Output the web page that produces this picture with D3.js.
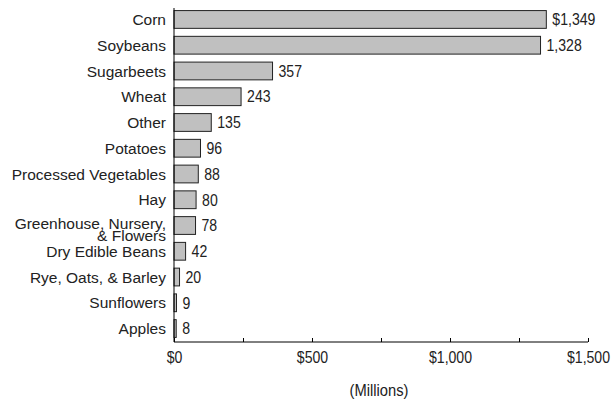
<!DOCTYPE html>
<html>
<head>
<meta charset="utf-8">
<script src="https://cdn.jsdelivr.net/npm/d3@7"></script>
<style>
  body { margin: 0; background: #fff; }
  text { font-family: "Liberation Sans Narrow", "Arial Narrow", "Liberation Sans", sans-serif; fill: #222; }
</style>
</head>
<body>
<div class="chart" style="width:613px;height:402px"></div>
<script>
// crops and values, in millions of dollars
let crops = ["Corn", "Soybeans", "Sugarbeets", "Wheat", "Other", "Potatoes",
    "Processed Vegetables", "Hay", "Greenhouse, Nursery,|& Flowers", "Dry Edible Beans",
    "Rye, Oats, & Barley", "Sunflowers", "Apples"];
let values = [1349, 1328, 357, 243, 135, 96, 88, 80, 78, 42, 20, 9, 8];
let valueLabels = ["$1,349", "1,328", "357", "243", "135", "96", "88", "80", "78", "42", "20", "9", "8"];
let xTicks = [0, 250, 500, 750, 1000, 1250, 1500];
let xTickLabels = ["$0", "", "$500", "", "$1,000", "", "$1,500"];

// squeeze text horizontally to mimic the condensed face of the original
function condense(sel, k) {
    sel.each(function() {
        let len = this.getComputedTextLength();
        if (len > 0) {
            d3.select(this)
                .attr("textLength", len * k)
                .attr("lengthAdjust", "spacingAndGlyphs");
        }
    });
}

function init() {
    let margin = { top: 8, right: 25, bottom: 60, left: 174 };
    let width = 613 - margin.left - margin.right;
    let height = 402 - margin.top - margin.bottom;

    let xScale = d3.scaleLinear()
        .range([0, width])
        .domain([0, 1500]);

    let yScale = d3.scaleBand()
        .range([0, height - 2])
        .domain(crops)
        .paddingInner(0.31)
        .paddingOuter(0.1);

    let svg = d3.select(".chart").append("svg")
        .attr("width", 613)
        .attr("height", 402);

    let plot = svg.append("g")
        .attr("transform", `translate(${margin.left},${margin.top})`);

    // bars
    plot.selectAll("rect.bar")
        .data(crops)
        .enter().append("rect")
        .attr("class", "bar")
        .attr("x", 0)
        .attr("y", d => yScale(d))
        .attr("width", (d, i) => xScale(values[i]))
        .attr("height", yScale.bandwidth())
        .attr("fill", "#c0c0c0")
        .attr("stroke", "#222")
        .attr("stroke-width", 1);

    // value labels
    let vals = plot.selectAll("text.val")
        .data(crops)
        .enter().append("text")
        .attr("class", "val")
        .attr("x", (d, i) => xScale(values[i]) + 6)
        .attr("y", d => yScale(d) + yScale.bandwidth() / 2)
        .attr("dy", "0.36em")
        .attr("font-size", 16)
        .text((d, i) => valueLabels[i]);
    condense(vals, 0.88);

    // category labels
    let labels = plot.selectAll("text.cat")
        .data(crops)
        .enter().append("text")
        .attr("class", "cat")
        .attr("text-anchor", "end")
        .attr("font-size", 15.5)
        .attr("y", d => yScale(d) + yScale.bandwidth() / 2);

    labels.each(function(d) {
        let parts = d.split("|");
        let t = d3.select(this);
        parts.forEach((p, j) => {
            t.append("tspan")
                .attr("x", -8)
                .attr("dy", j === 0 ? (parts.length > 1 ? "0.2em" : "0.36em") : "0.82em")
                .text(p);
        });
    });

    // y axis line
    plot.append("line")
        .attr("x1", 0).attr("x2", 0)
        .attr("y1", 0).attr("y2", height)
        .attr("stroke", "#000");

    // x axis
    let xAxis = plot.append("g")
        .attr("transform", `translate(0,${height})`)
        .call(d3.axisBottom(xScale)
            .tickValues(xTicks)
            .tickSize(-4)
            .tickFormat((d, i) => xTickLabels[i]));

    xAxis.select(".domain").attr("stroke", "#000").attr("d", `M0,0H${width}`);
    xAxis.selectAll(".tick line").attr("stroke", "#000");
    let tickText = xAxis.selectAll(".tick text")
        .attr("font-size", 16)
        .attr("y", 10)
        .attr("fill", "#222")
        .attr("font-family", null);
    condense(tickText, 0.88);

    let unit = svg.append("text")
        .attr("x", margin.left + width / 2 - 2)
        .attr("y", 396)
        .attr("text-anchor", "middle")
        .attr("font-size", 16)
        .text("(Millions)");
    condense(unit, 0.92);
}

init();
</script>
</body>
</html>
